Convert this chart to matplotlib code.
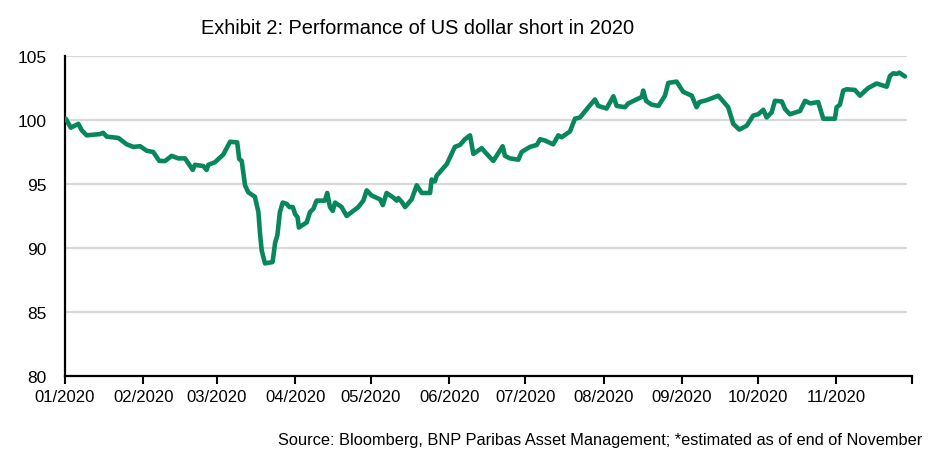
import matplotlib
matplotlib.use("Agg")
import matplotlib.pyplot as plt
import matplotlib.dates as mdates
import numpy as np
import pandas as pd

# Day offsets from 1 Jan 2020 and index values
day_offsets = [0.3, 2.3, 5.3, 6.6, 8.6, 13.8, 15.1, 16.5, 21.1, 24.4, 27.0, 29.7,
               32.3, 34.9, 37.3, 39.6, 42.2, 44.8, 47.5, 50.5, 51.4, 54.7, 56.0, 56.7,
               59.3, 62.6, 65.3, 68.1, 68.9, 69.9, 71.2, 72.5, 75.1, 76.5, 77.1, 77.8,
               79.1, 82.1, 83.1, 84.0, 85.0, 86.1, 87.7, 88.7, 90.1, 91.0, 92.0, 92.5,
               95.6, 96.9, 98.2, 99.5, 102.8, 103.7, 104.8, 105.9, 106.8, 109.4, 111.4,
               113.4, 116.0, 118.0, 119.3, 121.3, 124.6, 125.7, 127.2, 129.8, 131.2,
               131.8, 133.2, 134.5, 137.1, 139.1, 141.1, 144.4, 145.0, 146.3, 147.0,
               151.0, 154.2, 156.2, 158.2, 160.2, 161.5, 164.8, 166.1, 169.4, 173.1,
               174.0, 176.0, 179.3, 180.6, 183.9, 186.6, 187.9, 189.8, 193.1, 195.1,
               196.4, 199.7, 201.7, 203.7, 207.0, 209.6, 210.9, 214.2, 216.9, 218.2,
               221.5, 222.8, 228.1, 228.7, 229.8, 232.0, 234.7, 237.3, 238.6, 241.9,
               244.5, 247.9, 249.8, 250.9, 253.8, 258.4, 262.3, 264.3, 266.7, 269.6,
               272.2, 274.2, 276.2, 277.5, 279.5, 280.8, 283.5, 284.8, 286.7, 290.7,
               292.7, 294.7, 297.9, 299.9, 304.5, 305.2, 306.5, 307.8, 309.2, 312.4,
               314.4, 317.7, 321.0, 325.0, 326.3, 327.6, 329.0, 330.0, 332.2]
values = [100.1, 99.4, 99.7, 99.2, 98.8, 98.9, 99.0, 98.7, 98.6, 98.1, 97.9, 97.95,
          97.6, 97.5, 96.8, 96.8, 97.2, 97.0, 97.0, 96.1, 96.5, 96.4, 96.1, 96.5,
          96.7, 97.3, 98.3, 98.25, 96.95, 96.8, 94.9, 94.35, 94.0, 92.8, 91.2, 89.8,
          88.8, 88.9, 90.4, 91.0, 92.8, 93.55, 93.45, 93.2, 93.2, 92.65, 92.4, 91.6,
          92.0, 92.8, 93.05, 93.7, 93.7, 94.3, 93.2, 92.9, 93.55, 93.2, 92.5,
          92.8, 93.2, 93.7, 94.5, 94.1, 93.8, 93.35, 94.3, 93.95, 93.7,
          93.9, 93.6, 93.2, 93.8, 94.9, 94.3, 94.3, 95.35, 95.2, 95.65,
          96.55, 97.9, 98.05, 98.5, 98.8, 97.35, 97.8, 97.5, 96.8, 97.95,
          97.2, 97.0, 96.9, 97.5, 97.9, 98.05, 98.5, 98.4, 98.1, 98.8,
          98.65, 99.1, 100.1, 100.2, 101.0, 101.6, 101.1, 100.9, 101.85, 101.1,
          101.0, 101.3, 101.8, 102.3, 101.5, 101.2, 101.1, 101.9, 102.9, 103.0,
          102.2, 101.9, 101.0, 101.4, 101.55, 101.9, 101.0, 99.7, 99.25, 99.55,
          100.35, 100.45, 100.8, 100.2, 100.6, 101.5, 101.45, 100.85, 100.45, 100.7,
          101.5, 101.3, 101.4, 100.1, 100.1, 101.0, 101.2, 102.3, 102.4, 102.35,
          101.9, 102.5, 102.85, 102.6, 103.45, 103.65, 103.6, 103.7, 103.4]

y_ticks = [80, 85, 90, 95, 100, 105]
month_starts = pd.date_range("2020-01-01", "2020-12-01", freq="MS")
month_labels = [d.strftime("%m/%Y") for d in month_starts[:-1]] + [""]

title = "Exhibit 2: Performance of US dollar short in 2020"
source = "Source: Bloomberg, BNP Paribas Asset Management; *estimated as of end of November"

FONT = ["Liberation Sans Narrow", "Liberation Sans", "DejaVu Sans"]
plt.rcParams["font.family"] = FONT

base = mdates.date2num(pd.Timestamp("2020-01-01"))
x = base + np.array(day_offsets)

fig = plt.figure(figsize=(9.34, 4.60), dpi=100)
W, H = 934, 460
ax = fig.add_axes([65 / W, 1 - 377 / H, (912 - 65) / W, (377 - 57) / H])

ax.plot(x, values, color="#08875a", lw=3.3, solid_joinstyle="round", solid_capstyle="round", zorder=3)

ax.set_ylim(80, 105)
ax.set_yticks(y_ticks)
ax.set_xlim(mdates.date2num(month_starts[0]), mdates.date2num(month_starts[-1]))
ax.set_xticks(mdates.date2num(month_starts))
ax.set_xticklabels(month_labels)

for v in y_ticks[1:]:
    ax.plot([mdates.date2num(month_starts[0]), mdates.date2num(month_starts[-1]) - 2],
            [v, v], color="#d9d9d9", lw=1.6, zorder=1, solid_capstyle="butt")

for s in ["top", "right"]:
    ax.spines[s].set_visible(False)
ax.spines["left"].set_linewidth(1.6)
ax.spines["bottom"].set_linewidth(1.6)
ax.spines["left"].set_color("black")
ax.spines["bottom"].set_color("black")

ax.tick_params(axis="y", length=0, pad=13, labelsize=12.5)
ax.tick_params(axis="x", length=6, width=1.5, direction="out", pad=3, labelsize=12)

fig.text(418 / W, 1 - 28 / H, title, ha="center", va="center", fontsize=14.4)
fig.text(922 / W, 1 - 441 / H, source, ha="right", va="center", fontsize=11.8)

fig.savefig("out.png", dpi=100)
